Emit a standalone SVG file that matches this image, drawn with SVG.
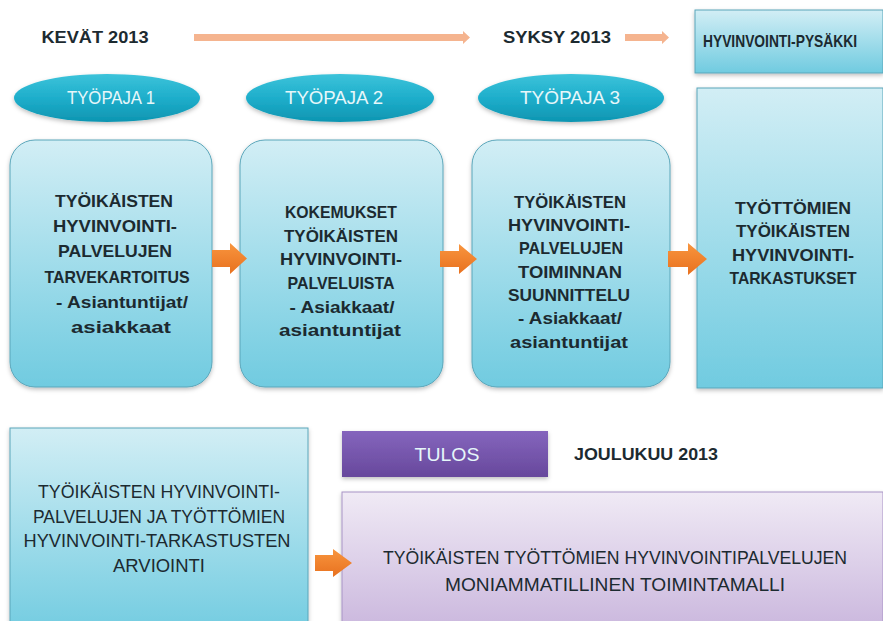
<svg xmlns="http://www.w3.org/2000/svg" width="883" height="621" viewBox="0 0 883 621">
<defs>
<linearGradient id="gBlue" x1="0" y1="0" x2="0" y2="1">
<stop offset="0" stop-color="#d2eef5"/>
<stop offset="1" stop-color="#70cbe0"/>
</linearGradient>
<linearGradient id="gTeal" x1="0" y1="0" x2="0" y2="1">
<stop offset="0" stop-color="#3cc3da"/>
<stop offset="0.5" stop-color="#1eaecb"/>
<stop offset="1" stop-color="#0e95b1"/>
</linearGradient>
<linearGradient id="gPurple" x1="0" y1="0" x2="0" y2="1">
<stop offset="0" stop-color="#8565bd"/>
<stop offset="1" stop-color="#67489c"/>
</linearGradient>
<linearGradient id="gLilac" x1="0" y1="0" x2="0" y2="1">
<stop offset="0" stop-color="#f0eaf5"/>
<stop offset="1" stop-color="#c8b4dc"/>
</linearGradient>
<linearGradient id="gOrange" x1="0" y1="0" x2="0" y2="1">
<stop offset="0" stop-color="#f8953e"/>
<stop offset="1" stop-color="#e8711f"/>
</linearGradient>
<filter id="sh" x="-10%" y="-10%" width="120%" height="130%">
<feDropShadow dx="0" dy="2" stdDeviation="2" flood-color="#000" flood-opacity="0.25"/>
</filter>
</defs>
<style>
.box{fill:url(#gBlue);stroke:#5aa6ba;stroke-width:1;filter:url(#sh)}
.ell{fill:url(#gTeal);filter:url(#sh)}
.t{font-family:"Liberation Sans",Arial,sans-serif;font-weight:bold;font-size:17px;fill:#1c2a30;text-anchor:middle}
.r{font-family:"Liberation Sans",Arial,sans-serif;font-size:18px;fill:#1c2a30;text-anchor:middle}
.w{font-family:"Liberation Sans",Arial,sans-serif;font-size:18px;fill:#e6f7fa;text-anchor:middle}
.peach{fill:#f5b48f}
.orange{fill:url(#gOrange)}
</style>

<g id="labels-top">
<text class="t" x="95" y="43" textLength="107" lengthAdjust="spacingAndGlyphs">KEVÄT 2013</text>
<text class="t" x="557" y="43" textLength="108" lengthAdjust="spacingAndGlyphs">SYKSY 2013</text>
</g>

<g id="timeline-arrows">
<polygon class="peach" points="194,34 463,34 463,31 470,37.5 463,44 463,41 194,41"/>
<polygon class="peach" points="625,34 662,34 662,31 669,37.5 662,44 662,41 625,41"/>
</g>

<g id="node-pysakki">
<rect class="box" x="695" y="10" width="188" height="63"/>
<text class="t" x="780" y="47" font-size="14" textLength="154" lengthAdjust="spacingAndGlyphs">HYVINVOINTI-PYSÄKKI</text>
</g>

<g id="node-tyopaja1">
<ellipse class="ell" cx="107" cy="98" rx="93" ry="24"/>
<text class="w" x="111" y="104" textLength="88" lengthAdjust="spacingAndGlyphs">TYÖPAJA 1</text>
</g>
<g id="node-tyopaja2">
<ellipse class="ell" cx="340" cy="98" rx="94" ry="24"/>
<text class="w" x="334" y="104" textLength="98" lengthAdjust="spacingAndGlyphs">TYÖPAJA 2</text>
</g>
<g id="node-tyopaja3">
<ellipse class="ell" cx="571" cy="98" rx="93" ry="24"/>
<text class="w" x="570" y="104" textLength="100" lengthAdjust="spacingAndGlyphs">TYÖPAJA 3</text>
</g>

<g id="node-box1">
<rect class="box" x="10" y="140" width="202" height="247" rx="25"/>
<text class="t" x="114" y="207" textLength="118" lengthAdjust="spacingAndGlyphs">TYÖIKÄISTEN</text>
<text class="t" x="115" y="232" textLength="124" lengthAdjust="spacingAndGlyphs">HYVINVOINTI-</text>
<text class="t" x="115" y="257" textLength="114" lengthAdjust="spacingAndGlyphs">PALVELUJEN</text>
<text class="t" x="117" y="283" textLength="145" lengthAdjust="spacingAndGlyphs">TARVEKARTOITUS</text>
<text class="t" x="122" y="308" textLength="132" lengthAdjust="spacingAndGlyphs">- Asiantuntijat/</text>
<text class="t" x="121" y="333" textLength="100" lengthAdjust="spacingAndGlyphs">asiakkaat</text>
</g>

<g id="node-box2">
<rect class="box" x="240" y="140" width="203" height="247" rx="25"/>
<text class="t" x="341" y="218" textLength="112" lengthAdjust="spacingAndGlyphs">KOKEMUKSET</text>
<text class="t" x="341" y="242" textLength="114" lengthAdjust="spacingAndGlyphs">TYÖIKÄISTEN</text>
<text class="t" x="341" y="265" textLength="122" lengthAdjust="spacingAndGlyphs">HYVINVOINTI-</text>
<text class="t" x="341" y="289" textLength="107" lengthAdjust="spacingAndGlyphs">PALVELUISTA</text>
<text class="t" x="342" y="313" textLength="105" lengthAdjust="spacingAndGlyphs">- Asiakkaat/</text>
<text class="t" x="340" y="336" textLength="122" lengthAdjust="spacingAndGlyphs">asiantuntijat</text>
</g>

<g id="node-box3">
<rect class="box" x="472" y="140" width="198" height="247" rx="25"/>
<text class="t" x="570" y="208" textLength="112" lengthAdjust="spacingAndGlyphs">TYÖIKÄISTEN</text>
<text class="t" x="569" y="231" textLength="122" lengthAdjust="spacingAndGlyphs">HYVINVOINTI-</text>
<text class="t" x="571" y="254" textLength="104" lengthAdjust="spacingAndGlyphs">PALVELUJEN</text>
<text class="t" x="570" y="278" textLength="104" lengthAdjust="spacingAndGlyphs">TOIMINNAN</text>
<text class="t" x="569" y="301" textLength="122" lengthAdjust="spacingAndGlyphs">SUUNNITTELU</text>
<text class="t" x="570" y="324" textLength="104" lengthAdjust="spacingAndGlyphs">- Asiakkaat/</text>
<text class="t" x="569" y="348" textLength="118" lengthAdjust="spacingAndGlyphs">asiantuntijat</text>
</g>

<g id="node-tarkastukset">
<rect class="box" x="697" y="88" width="186" height="300"/>
<text class="t" x="793" y="214" textLength="116" lengthAdjust="spacingAndGlyphs">TYÖTTÖMIEN</text>
<text class="t" x="793" y="237" textLength="114" lengthAdjust="spacingAndGlyphs">TYÖIKÄISTEN</text>
<text class="t" x="793" y="261" textLength="122" lengthAdjust="spacingAndGlyphs">HYVINVOINTI-</text>
<text class="t" x="793" y="284" textLength="127" lengthAdjust="spacingAndGlyphs">TARKASTUKSET</text>
</g>

<g id="node-arviointi">
<rect class="box" x="10" y="428" width="298" height="210"/>
<text class="r" x="159" y="498" textLength="242" lengthAdjust="spacingAndGlyphs">TYÖIKÄISTEN HYVINVOINTI-</text>
<text class="r" x="159" y="523" textLength="252" lengthAdjust="spacingAndGlyphs">PALVELUJEN JA TYÖTTÖMIEN</text>
<text class="r" x="157" y="547" textLength="267" lengthAdjust="spacingAndGlyphs">HYVINVOINTI-TARKASTUSTEN</text>
<text class="r" x="159" y="572" textLength="92" lengthAdjust="spacingAndGlyphs">ARVIOINTI</text>
</g>

<g id="node-tulos">
<rect x="342" y="431" width="206" height="46" fill="url(#gPurple)" filter="url(#sh)"/>
<text class="w" x="447" y="461" font-size="19.5" fill="#e8e0f5" textLength="65" lengthAdjust="spacingAndGlyphs">TULOS</text>
</g>
<g id="label-joulukuu">
<text class="t" x="646" y="460" textLength="144" lengthAdjust="spacingAndGlyphs">JOULUKUU 2013</text>
</g>

<g id="node-toimintamalli">
<rect x="342" y="492" width="541" height="146" fill="url(#gLilac)" stroke="#a893c6" stroke-width="1" filter="url(#sh)"/>
<text class="r" x="615" y="564" textLength="464" lengthAdjust="spacingAndGlyphs">TYÖIKÄISTEN TYÖTTÖMIEN HYVINVOINTIPALVELUJEN</text>
<text class="r" x="615" y="591" textLength="340" lengthAdjust="spacingAndGlyphs">MONIAMMATILLINEN TOIMINTAMALLI</text>
</g>

<g id="connectors">
<polygon class="orange" points="212,250 230,250 230,243 247,258.5 230,274 230,267 212,267"/>
<polygon class="orange" points="440,251 459,251 459,244 477,259 459,274 459,267 440,267"/>
<polygon class="orange" points="668,251 688,251 688,243 707,259 688,275 688,267 668,267"/>
<polygon class="orange" points="315,555 333,555 333,549 352,563 333,577 333,571 315,571"/>
</g>
</svg>
